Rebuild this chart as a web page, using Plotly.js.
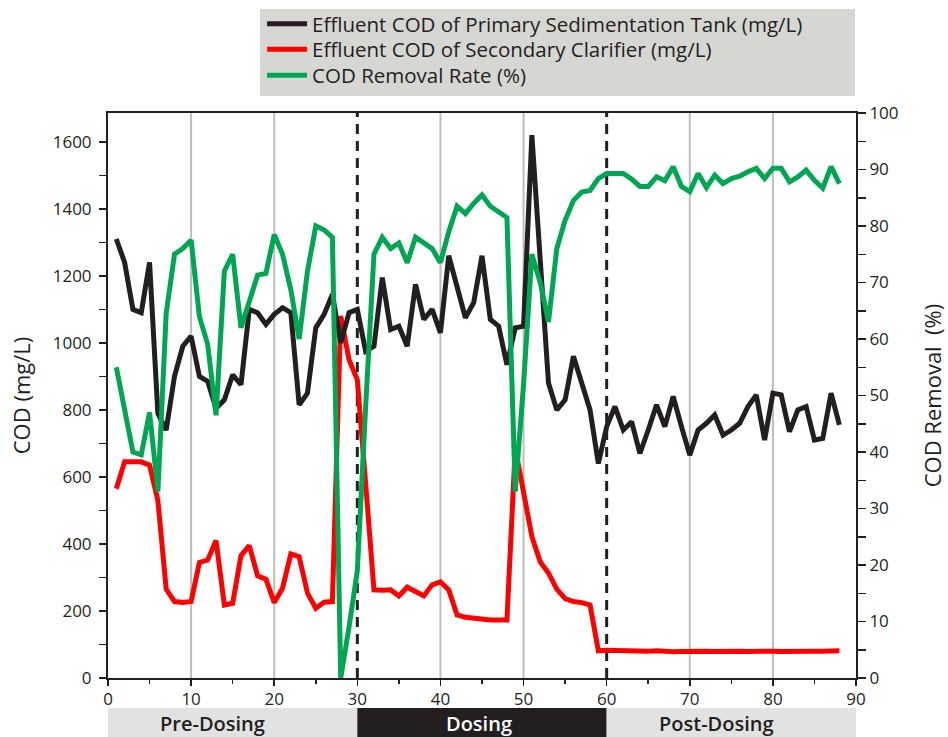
<!DOCTYPE html>
<html>
<head>
<meta charset="utf-8">
<script src="https://cdn.plot.ly/plotly-3.0.1.min.js"></script>
<style>
html,body{margin:0;padding:0;background:#ffffff;}
#chart{width:948px;height:737px;}
</style>
</head>
<body>
<div id="chart"></div>
<script>
// ---- data ----
const days = [1,2,3,4,5,6,7,8,9,10,11,12,13,14,15,16,17,18,19,20,21,22,23,24,25,26,27,28,29,30,
  31,32,33,34,35,36,37,38,39,40,41,42,43,44,45,46,47,48,49,50,51,52,53,54,55,56,57,58,59,60,
  61,62,63,64,65,66,67,68,69,70,71,72,73,74,75,76,77,78,79,80,81,82,83,84,85,86,87,88];

const primaryCOD = [1310,1240,1100,1090,1240,790,740,900,990,1020,900,885,805,830,905,875,1100,1090,1055,1085,
  1105,1090,815,850,1045,1085,1145,1000,1090,1100,
  975,990,1195,1040,1050,990,1175,1070,1100,1030,1260,1165,1075,1120,1260,1070,1050,935,1045,1050,
  1620,1250,880,800,830,960,880,800,640,750,
  810,740,765,670,740,815,750,840,750,665,740,760,785,725,740,760,810,845,710,850,
  845,735,800,810,710,715,850,755];

const secondaryCOD = [565,645,645,645,635,530,265,228,225,228,345,352,410,218,223,365,395,305,295,225,
  268,370,362,253,208,226,228,1080,950,890,
  580,263,262,263,245,271,258,245,278,287,263,188,181,178,175,173,173,173,686,546,
  422,347,313,265,237,228,225,218,81,83,
  82,80,80,79,80,81,79,78,79,80,79,80,79,80,81,80,79,80,81,80,
  79,80,78,79,80,80,79,81];

const removalRate = [55,47,40,39.5,47,33,64.5,75,76,77.5,64,59,46.5,72,75,62,66.5,71.3,71.6,78.5,
  75,68.7,60,72,80,79.3,78,0,9,19,
  48,75,78,76,77,73.5,78,77,76,73.5,79,83.5,82.2,84,85.5,83.5,82.5,81.5,33,52,
  75,70,63,76,81,84.5,86,86.3,88.4,89.3,
  89.3,89.3,88.3,87,87,88.7,88,90.5,87,86.1,89.3,86.8,89,87.5,88.4,88.8,89.6,90.2,88.4,90.2,
  90.2,87.8,88.7,89.9,88.1,86.7,90.5,87.5];

const seriesNames = [
  'Effluent COD of Primary Sedimentation Tank (mg/L)',
  'Effluent COD of Secondary Clarifier (mg/L)',
  'COD Removal Rate (%)'
];

const gridDays = [10,20,40,50,70,80];
const phaseBoundaries = [30,60];
const phaseNames = ['Pre-Dosing','Dosing','Post-Dosing'];
const phaseStart = [0,30,60];
const phaseEnd = [30,60,90];

// ---- styles / placement ----
const INK = '#231f20';
const FONT = '"Open Sans", "Noto Sans", sans-serif';
const phaseFill = ['#e2e2e2', INK, '#e2e2e2'];
const phaseText = [INK, '#ffffff', INK];
const phaseLabelAt = [12.6, 44.6, 73.2];
const legendRowY = [1.1575, 1.1125, 1.0665];   // paper y of each legend row

const traces = [
  {x: days, y: removalRate, yaxis: 'y2', name: seriesNames[2], mode: 'lines', legend: 'legend3',
   line: {color: '#00a651', width: 5}},
  {x: days, y: secondaryCOD, yaxis: 'y', name: seriesNames[1], mode: 'lines', legend: 'legend2',
   line: {color: '#ff0000', width: 5}},
  {x: days, y: primaryCOD, yaxis: 'y', name: seriesNames[0], mode: 'lines', legend: 'legend',
   line: {color: INK, width: 5}}
];

const shapes = [];
// legend background box
shapes.push({type: 'rect', xref: 'paper', yref: 'paper', x0: 0.2032, x1: 0.9987, y0: 1.030, y1: 1.184,
  fillcolor: '#d6d6d2', line: {width: 0}, layer: 'below'});
gridDays.forEach(d => shapes.push({type: 'line', xref: 'x', yref: 'paper', x0: d, x1: d, y0: 0, y1: 1,
  line: {color: '#bdbdbd', width: 2}, layer: 'below'}));
phaseBoundaries.forEach(d => shapes.push({type: 'line', xref: 'x', yref: 'paper', x0: d, x1: d, y0: 0, y1: 1,
  line: {color: INK, width: 3, dash: '10px,7px'}, layer: 'below'}));
const annotations = [];
phaseNames.forEach((p, i) => {
  shapes.push({type: 'rect', xref: 'x', yref: 'paper', x0: phaseStart[i], x1: phaseEnd[i],
    y0: -0.106, y1: -0.053, fillcolor: phaseFill[i], line: {width: 0}});
  annotations.push({xref: 'x', yref: 'paper', x: phaseLabelAt[i], y: -0.0805,
    text: p, showarrow: false, xanchor: 'center', yanchor: 'middle', borderpad: 0,
    font: {family: FONT, size: 20, color: phaseText[i], weight: 600}});
});

const tickFont = {family: FONT, size: 17, color: INK};
const legendStyle = y => ({x: 0.206, y: y, xanchor: 'left', yanchor: 'middle', bgcolor: 'rgba(0,0,0,0)',
  borderwidth: 0, font: {family: FONT, size: 20.5, color: INK}, itemwidth: 40});

const layout = {
  width: 948, height: 737,
  margin: {l: 108, r: 92, t: 113, b: 59, autoexpand: false},
  paper_bgcolor: '#ffffff', plot_bgcolor: '#ffffff',
  showlegend: true,
  legend: legendStyle(legendRowY[0]),
  legend2: legendStyle(legendRowY[1]),
  legend3: legendStyle(legendRowY[2]),
  xaxis: {range: [0, 90], tickmode: 'linear', tick0: 0, dtick: 10, ticks: 'outside', ticklen: 6,
    tickwidth: 1.5, tickcolor: INK, showline: true, linecolor: INK, linewidth: 2, mirror: true,
    showgrid: false, zeroline: false, tickfont: tickFont, ticklabelstandoff: -1,
    minor: {dtick: 5, ticks: 'outside', ticklen: 4, tickcolor: INK, tickwidth: 1.5, showgrid: false}},
  yaxis: {range: [0, 1686], tickmode: 'linear', tick0: 0, dtick: 200, ticks: 'outside', ticklen: 7,
    tickwidth: 1.5, tickcolor: INK, showline: true, linecolor: INK, linewidth: 2,
    showgrid: false, zeroline: false, tickfont: tickFont, ticklabelstandoff: 4,
    minor: {dtick: 100, ticks: 'outside', ticklen: 7, tickcolor: INK, tickwidth: 1.5, showgrid: false},
    title: {text: 'COD (mg/L)', standoff: 16, font: {family: FONT, size: 22, color: INK}}},
  yaxis2: {range: [0, 100], overlaying: 'y', side: 'right', tickmode: 'linear', tick0: 0, dtick: 10,
    ticks: 'outside', ticklen: 8, tickwidth: 1.5, tickcolor: INK, showline: true, linecolor: INK,
    linewidth: 2, showgrid: false, zeroline: false, tickfont: tickFont,
    minor: {dtick: 5, ticks: 'outside', ticklen: 8, tickcolor: INK, tickwidth: 1.5, showgrid: false},
    title: {text: 'COD Removal  (%)', standoff: 28, font: {family: FONT, size: 22, color: INK}}},
  shapes: shapes,
  annotations: annotations
};

Plotly.newPlot('chart', traces, layout, {displayModeBar: false, staticPlot: true});
</script>
</body>
</html>
